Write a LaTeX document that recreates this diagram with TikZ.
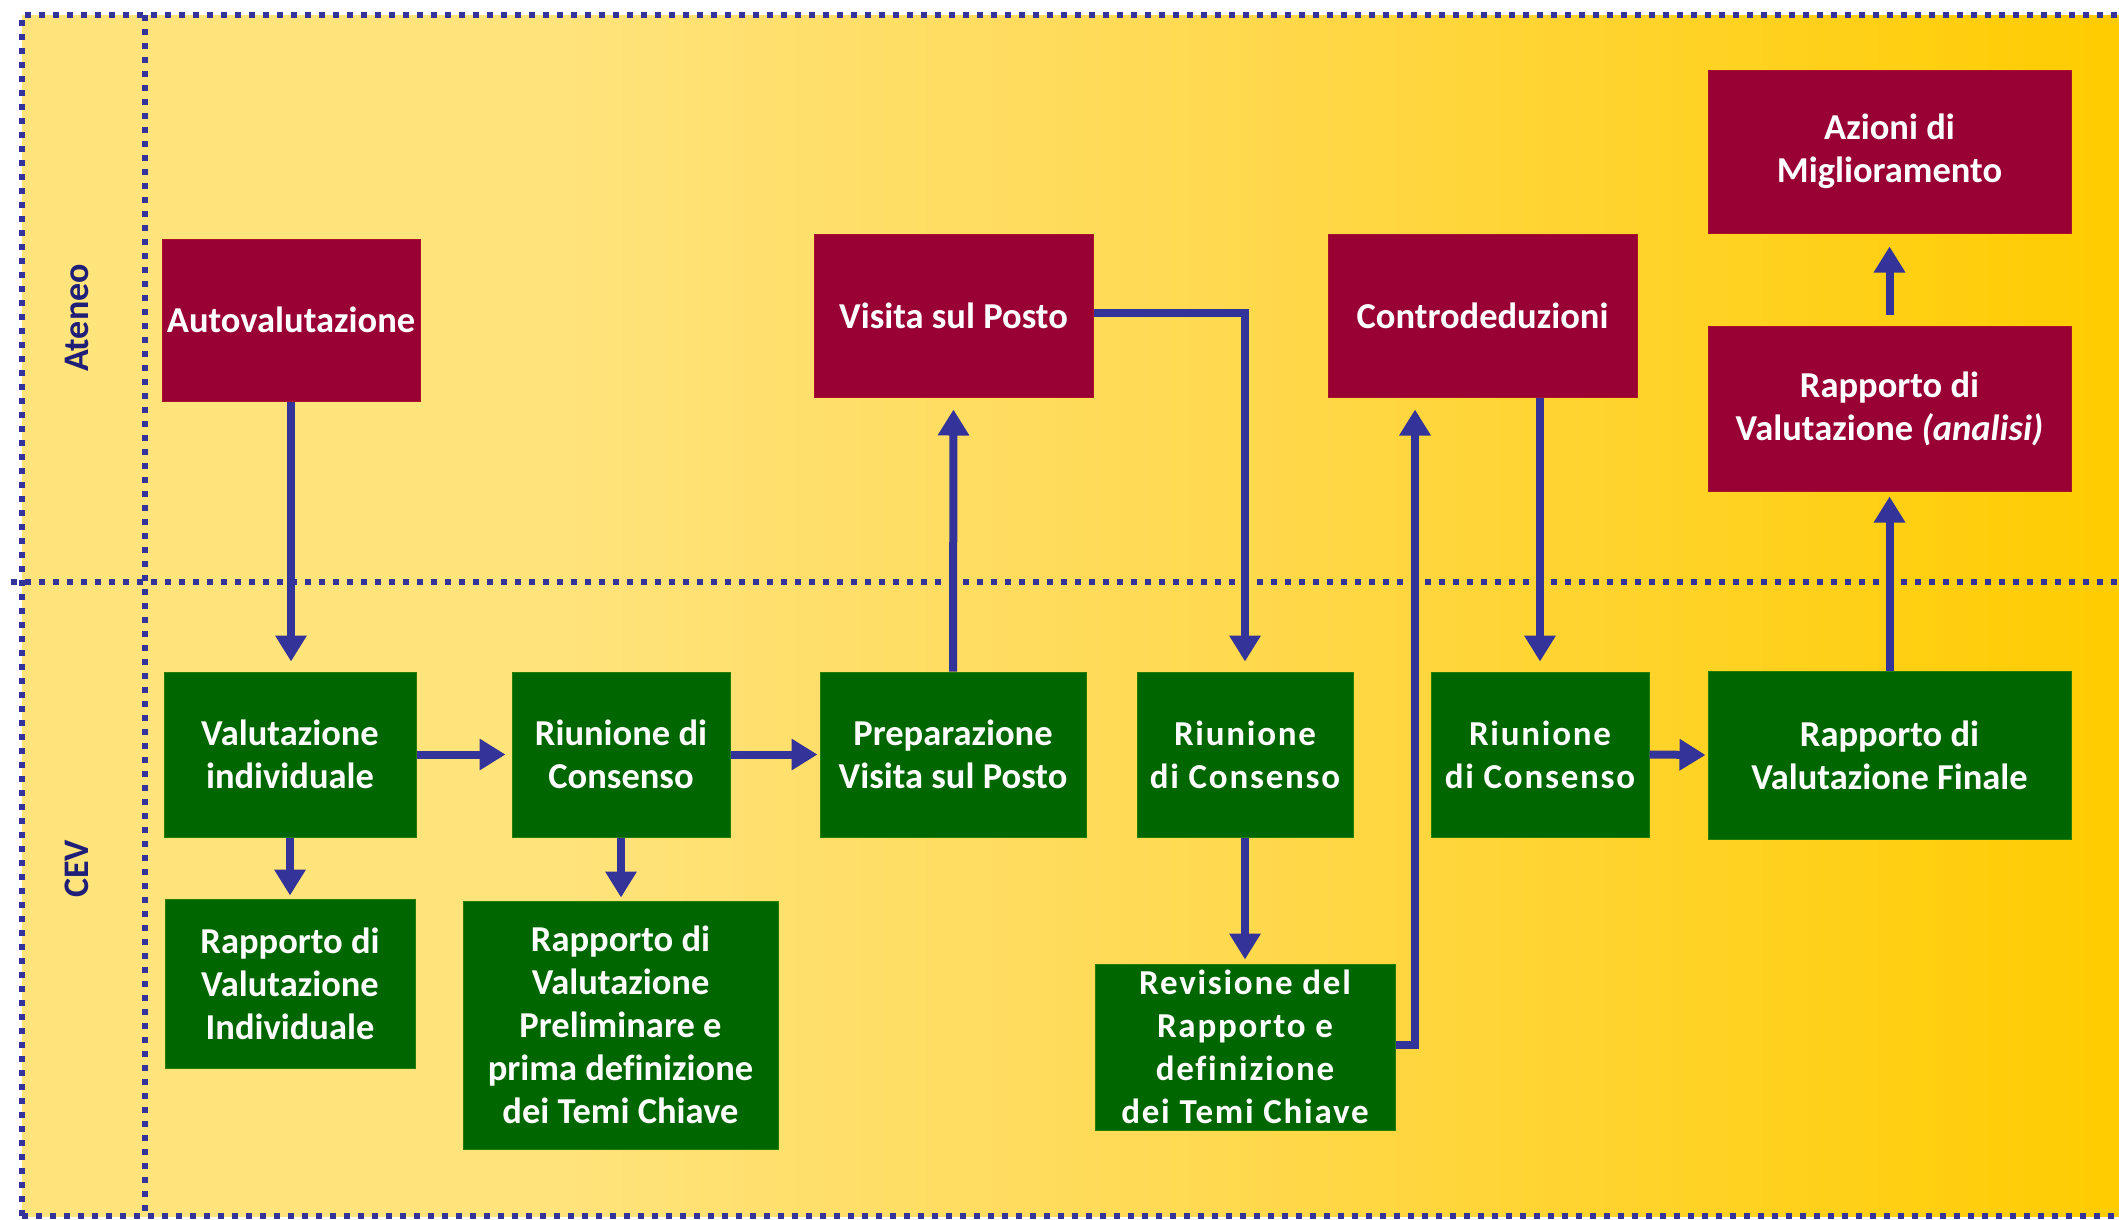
\documentclass[tikz,border=0pt]{standalone}
\usepackage{fontspec}
\setmainfont{Carlito}[Ligatures=NoCommon]
\usetikzlibrary{arrows.meta}
\definecolor{boxred}{HTML}{990033}
\definecolor{boxgreen}{HTML}{006600}
\definecolor{arrowblue}{HTML}{333399}
\definecolor{lanetext}{HTML}{1F1F78}
\definecolor{bgA}{HTML}{FFE37B}
\definecolor{bgB}{HTML}{FFDA55}
\definecolor{bgC}{HTML}{FFCC00}
\pgfdeclarehorizontalshading{bgshade}{100bp}{color(0bp)=(bgA); color(25bp)=(bgA); color(38bp)=(bgA); color(52bp)=(bgB); color(75bp)=(bgC); color(100bp)=(bgC)}
\begin{document}
\begin{tikzpicture}[x=1pt,y=-1pt,
  box/.style={rectangle, inner sep=0pt, align=center, text=white, font=\fontsize{36.5}{43}\selectfont\bfseries},
  redbox/.style={box, fill=boxred, draw=boxred!85!orange, line width=1pt},
  greenbox/.style={box, fill=boxgreen, draw=boxgreen!85!yellow, line width=1pt},
  wide/.style={font=\fontsize{35}{43}\selectfont\bfseries\addfontfeatures{LetterSpace=5}},
  flow/.style={draw=arrowblue, line width=8pt, -{Triangle[width=30pt,length=26pt]}},
  lane/.style={draw=arrowblue, line width=6pt, dash pattern=on 6pt off 8pt},
  lanelabel/.style={text=lanetext, font=\fontsize{36}{43}\selectfont\bfseries, rotate=90}]

\useasboundingbox (0,0) rectangle (2119,1219);
\fill[white] (0,0) rectangle (2119,1219);
\shade[shading=bgshade] (22,15) rectangle (2119,1216);

% swimlane frame
\draw[lane] (22,1216) -- (22,15) -- (2130,15);
\draw[lane] (22,1216) -- (2130,1216);
\draw[lane] (145,15) -- (145,1216);
\draw[lane] (11,582) -- (2130,582);

\node[lanelabel] (ateneo) at (77,318) {Ateneo};
\node[lanelabel] (cev) at (77,869) {CEV};

% Ateneo boxes
\node[redbox, minimum width=258pt, minimum height=162pt] (auto) at (291,320) {Autovalutazione};
\node[redbox, minimum width=279pt, minimum height=163pt] (visita) at (953.5,315.5) {Visita sul Posto};
\node[redbox, minimum width=309pt, minimum height=163pt] (contro) at (1482.5,315.5) {Controdeduzioni};
\node[redbox, minimum width=363pt, minimum height=163pt] (azioni) at (1889.5,151.5) {Azioni di\\Miglioramento};
\node[redbox, minimum width=363pt, minimum height=165pt] (analisi) at (1889.5,408.5) {Rapporto di\\Valutazione \textit{(analisi)}};

% CEV boxes
\node[greenbox, minimum width=252pt, minimum height=165pt] (valind) at (290,754.5) {Valutazione\\individuale};
\node[greenbox, minimum width=218pt, minimum height=165pt] (riun1) at (621,754.5) {Riunione di\\Consenso};
\node[greenbox, minimum width=266pt, minimum height=165pt] (prep) at (953,754.5) {Preparazione\\Visita sul Posto};
\node[greenbox, wide, minimum width=216pt, minimum height=165pt] (riun2) at (1245,754.5) {Riunione\\di Consenso};
\node[greenbox, wide, minimum width=218pt, minimum height=165pt] (riun3) at (1540,754.5) {Riunione\\di Consenso};
\node[greenbox, minimum width=363pt, minimum height=168pt] (finale) at (1889.5,755) {Rapporto di\\Valutazione Finale};
\node[greenbox, minimum width=250pt, minimum height=169pt] (rappind) at (290,983.5) {Rapporto di\\Valutazione\\Individuale};
\node[greenbox, minimum width=315pt, minimum height=248pt] (prelim) at (620.5,1025) {Rapporto di\\Valutazione\\Preliminare e\\prima definizione\\dei Temi Chiave};
\node[greenbox, wide, minimum width=300pt, minimum height=166pt] (revis) at (1245,1047) {Revisione del\\Rapporto e\\definizione\\dei Temi Chiave};

% connectors
\draw[flow, shorten >=10pt] (auto.south) -- (auto.south |- valind.north);
\draw[flow, shorten >=3pt] (valind.south) -- (rappind.north);
\draw[flow, shorten >=6pt] (valind.east) -- (riun1.west);
\draw[flow, shorten >=3pt] (riun1.south) -- (riun1.south |- prelim.north);
\draw[flow, shorten >=2pt] (riun1.east) -- (prep.west);
\draw[flow, shorten >=12pt] (prep.north) -- (visita.south);
\draw[flow, shorten >=10pt] ([yshift=3pt]visita.east) -| (riun2.north);
\draw[flow, shorten >=4pt] (riun2.south) -- (revis.north);
\draw[flow, shorten >=12pt] ([yshift=2pt]revis.east) -| ([xshift=-67.5pt]contro.south);
\draw[flow, shorten >=10pt] (riun3.north |- contro.south) -- (riun3.north);
\draw[flow, shorten >=2pt] (riun3.east) -- (finale.west);
\draw[flow, shorten >=5pt] (finale.north) -- (analisi.south);
\draw[flow, shorten <=11pt, shorten >=13pt] (analisi.north) -- (azioni.south);
\end{tikzpicture}
\end{document}
